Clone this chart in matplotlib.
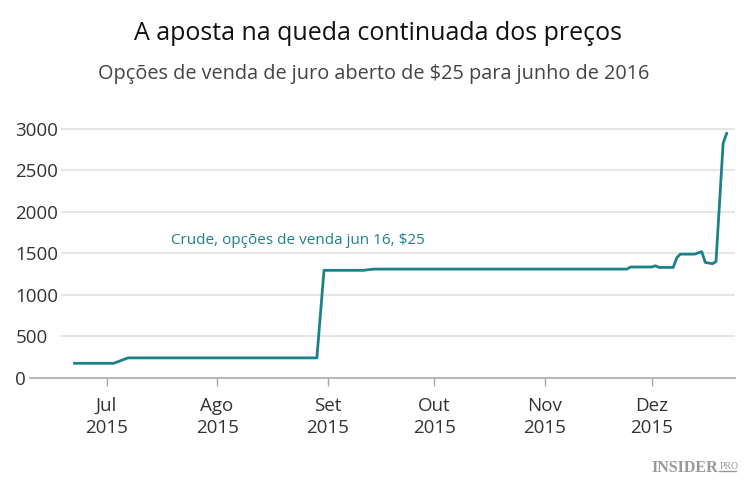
import matplotlib
matplotlib.use("Agg")
import matplotlib.pyplot as plt
import pandas as pd

# dados
datas = ["2015-06-22", "2015-07-03", "2015-07-07", "2015-08-29", "2015-08-31",
         "2015-09-11", "2015-09-14", "2015-11-24", "2015-11-25", "2015-12-01",
         "2015-12-02", "2015-12-03", "2015-12-07", "2015-12-08", "2015-12-09",
         "2015-12-13", "2015-12-15", "2015-12-16", "2015-12-18", "2015-12-19",
         "2015-12-21", "2015-12-22"]
valores = [175, 175, 240, 240, 1295,
           1295, 1310, 1310, 1335, 1335,
           1350, 1330, 1330, 1447, 1490,
           1490, 1520, 1390, 1375, 1400,
           2825, 2945]
meses = ["2015-07-01", "2015-08-01", "2015-09-01", "2015-10-01", "2015-11-01", "2015-12-01"]
rotulos_meses = ["Jul\n2015", "Ago\n2015", "Set\n2015", "Out\n2015", "Nov\n2015", "Dez\n2015"]
yticks = [0, 500, 1000, 1500, 2000, 2500, 3000]

plt.rcParams['font.family'] = ['Open Sans', 'DejaVu Sans']

fig = plt.figure(figsize=(7.5, 4.84), dpi=100)
ax = fig.add_axes([0.04, 0.2194, 0.94, 0.5316])

x = pd.to_datetime(datas)
cor = "#1b8289"
ax.plot(x, valores, color=cor, lw=2, solid_joinstyle="round")

ax.set_ylim(0, 3100)
ax.set_xlim(pd.Timestamp("2015-06-09 12:00"), pd.Timestamp("2015-12-24 08:00"))

for v in yticks[1:]:
    ax.axhline(v, xmin=0.045, xmax=1, color="#e6e6e6", lw=1.5, zorder=0)

ax.set_yticks(yticks)
ax.set_yticklabels([str(v) for v in yticks])
for lab in ax.get_yticklabels():
    lab.set_horizontalalignment("left")
ax.tick_params(axis="y", length=0, pad=10.5, labelsize=13.5, labelcolor="#333333")

ax.set_xticks(pd.to_datetime(meses))
ax.set_xticklabels(rotulos_meses, linespacing=1.3)
ax.tick_params(axis="x", length=6, width=1, color="#aaaaaa", pad=8,
               labelsize=13.5, labelcolor="#333333")

for s in ["top", "right", "left"]:
    ax.spines[s].set_visible(False)
ax.spines["bottom"].set_color("#aaaaaa")
ax.spines["bottom"].set_linewidth(1.2)

ax.text(pd.Timestamp("2015-07-19"), 1650, "Crude, opções de venda jun 16, \\$25",
        color=cor, fontsize=11, va="center")

fig.text(0.504, 0.93, "A aposta na queda continuada dos preços",
         ha="center", va="center", fontsize=18, color="#111111")
fig.text(0.498, 0.848, "Opções de venda de juro aberto de \\$25 para junho de 2016",
         ha="center", va="center", fontsize=14.3, color="#444444")

# logotipo
fig.text(0.957, 0.025, "INSIDER", ha="right", va="baseline", fontsize=11.5,
         family="Liberation Serif", weight="bold", color="#9a9a9a")
fig.text(0.9595, 0.032, "PRO", ha="left", va="baseline", fontsize=7,
         family="Liberation Serif", color="#9a9a9a")
fig.add_artist(plt.Line2D([0.959, 0.981], [0.0265, 0.0265], color="#9a9a9a", lw=1))

fig.savefig("out.png", dpi=100)
